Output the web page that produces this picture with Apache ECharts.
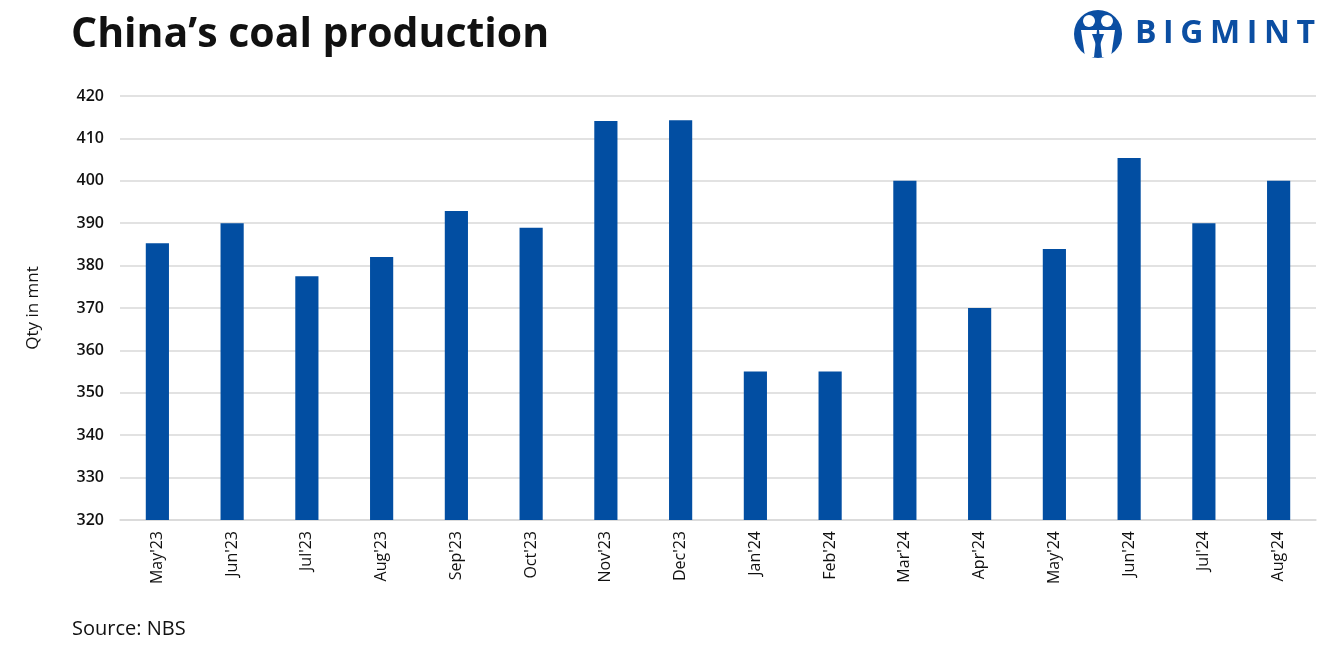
<!DOCTYPE html>
<html><head><meta charset="utf-8">
<script src="https://cdn.jsdelivr.net/npm/echarts@6/dist/echarts.min.js"></script>
<style>html,body{margin:0;padding:0;background:#fff}#c{width:1329px;height:663px}</style>
</head><body><div id="c"></div>
<script>
const categories = ["May'23","Jun'23","Jul'23","Aug'23","Sep'23","Oct'23","Nov'23","Dec'23","Jan'24","Feb'24","Mar'24","Apr'24","May'24","Jun'24","Jul'24","Aug'24"];
const production = [385.3, 390.0, 377.5, 382.0, 392.9, 388.9, 414.1, 414.3, 355.0, 355.0, 400.0, 370.0, 383.9, 405.4, 390.0, 400.0];
const yMin = 320, yMax = 420, yStep = 10;
const titleText = "China\u2019s coal production";
const yAxisTitle = "Qty in mnt";
const sourceText = "Source: NBS";
const logoLetters = ["B","I","G","M","I","N","T"];

const chart = echarts.init(document.getElementById('c'));
const blue = '#024EA2';
const logoBlue = '#0B4EA2';
const logoFont = 'bold 32px "Open Sans"';
const graphics = [
  {type: 'text', left: 72, top: 619, style: {text: sourceText, font: '20px "Open Sans"', fill: '#111'}},
  {type: 'circle', shape: {cx: 1098, cy: 34, r: 24}, style: {fill: logoBlue}},
  {type: 'circle', shape: {cx: 1089, cy: 21, r: 6}, style: {fill: '#fff'}},
  {type: 'circle', shape: {cx: 1107, cy: 21, r: 6}, style: {fill: '#fff'}},
  {type: 'polygon', shape: {points: [[1081,30],[1097,30],[1094,57],[1085,57]]}, style: {fill: '#fff'}},
  {type: 'polygon', shape: {points: [[1099,30],[1115,30],[1111,57],[1102,57]]}, style: {fill: '#fff'}},
  {type: 'polygon', shape: {points: [[1092,34],[1104,34],[1098,50]]}, style: {fill: logoBlue}}
];
// spread the logo letters evenly between x=1135 and x=1315
const ctx = document.createElement('canvas').getContext('2d');
ctx.font = logoFont;
const widths = logoLetters.map(ch => ctx.measureText(ch).width);
const totalW = widths.reduce((a, b) => a + b, 0);
const gap = (1315 - 1135 - totalW) / (logoLetters.length - 1);
let lx = 1135;
logoLetters.forEach((ch, i) => {
  graphics.push({type: 'text', x: lx, y: 18, style: {text: ch, font: logoFont, fill: logoBlue}});
  lx += widths[i] + gap;
});
chart.setOption({
  animation: false,
  backgroundColor: '#fff',
  title: {
    text: titleText, left: 66, top: 10,
    textStyle: {fontFamily: 'Open Sans', fontWeight: 'bold', fontSize: 41, color: '#111'}
  },
  grid: {left: 120, right: 13, top: 96, bottom: 143, containLabel: false},
  xAxis: {
    type: 'category', data: categories,
    axisLine: {lineStyle: {color: '#D9D9D9', width: 1.5}},
    axisTick: {show: false},
    axisLabel: {rotate: 90, fontFamily: 'Open Sans', fontSize: 16, color: '#111', margin: 11}
  },
  yAxis: {
    type: 'value', min: yMin, max: yMax, interval: yStep,
    name: yAxisTitle, nameLocation: 'middle', nameGap: 78, nameRotate: 90,
    nameTextStyle: {fontFamily: 'Open Sans', fontSize: 17, color: '#111'},
    axisLine: {show: false}, axisTick: {show: false},
    axisLabel: {fontFamily: 'Open Sans', fontSize: 16, fontWeight: 600, color: '#111', margin: 16},
    splitLine: {lineStyle: {color: '#D9D9D9', width: 1.5}}
  },
  series: [{
    type: 'bar', data: production, barWidth: '31%',
    itemStyle: {color: blue}
  }],
  graphic: graphics
});
</script></body></html>
